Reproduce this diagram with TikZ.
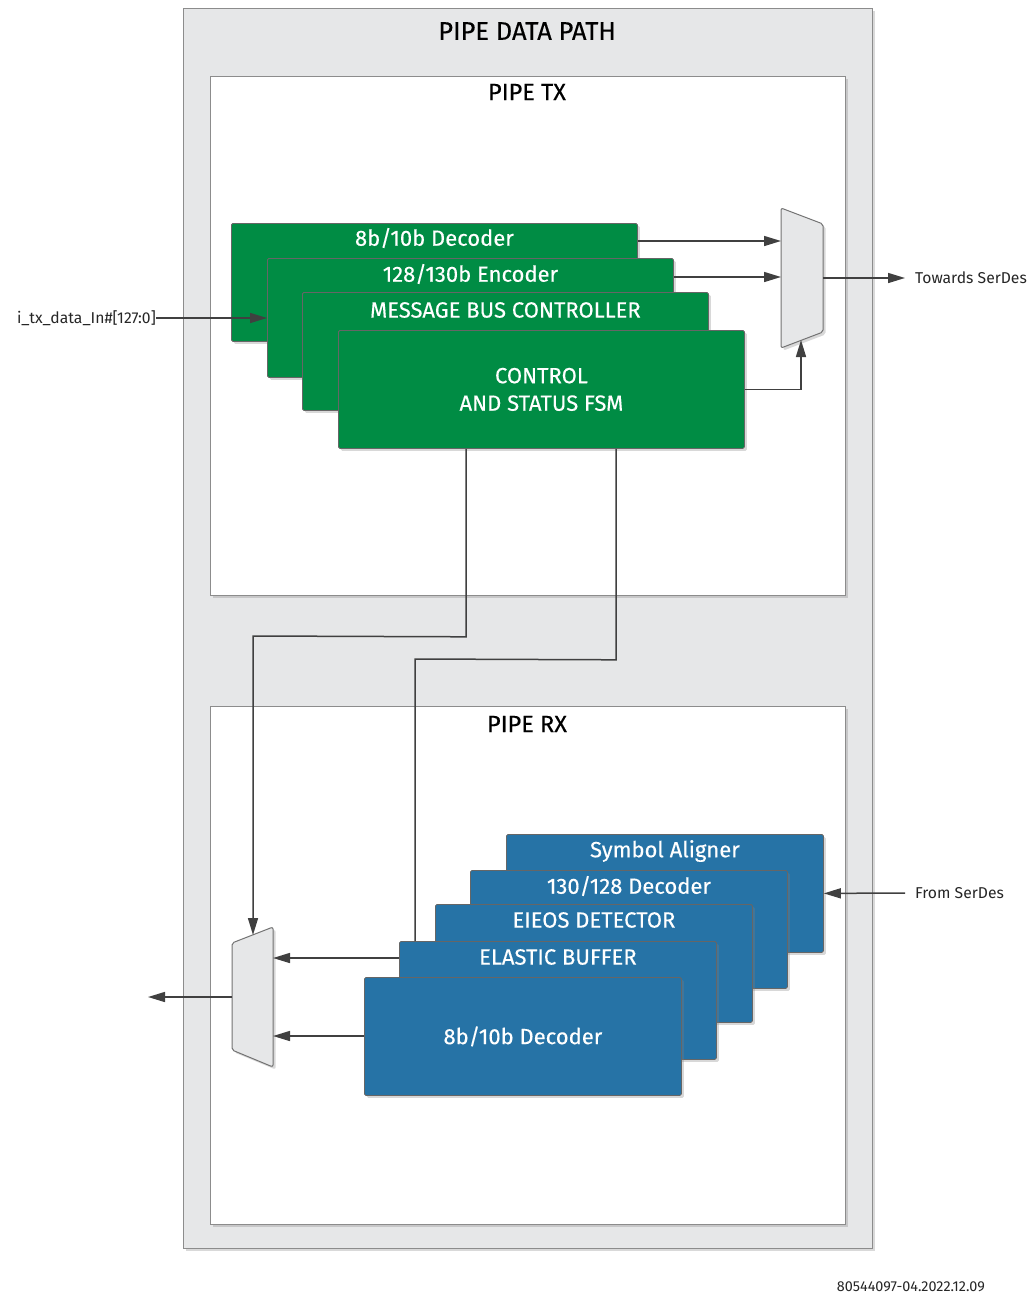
\documentclass[tikz,border=0pt]{standalone}
\usepackage{fontspec}
\setmainfont{Fira Sans}
\newfontfamily\medfont{Fira Sans}[FakeBold=0.3]
\usetikzlibrary{arrows.meta,shadows,calc}
\definecolor{grn}{HTML}{008C44}
\definecolor{blu}{HTML}{2673A6}
\definecolor{panel}{HTML}{E6E7E8}
\definecolor{edge}{HTML}{8C8C8C}
\definecolor{wire}{HTML}{404040}
\begin{document}
\begin{tikzpicture}[x=1pt,y=-1pt,
  shad/.style={drop shadow={opacity=0.3,shadow xshift=2.5pt,shadow yshift=-2.5pt}},
  panelbox/.style={draw=edge,line width=1pt,fill=panel,shad,anchor=north west,inner sep=0pt},
  whitebox/.style={draw=edge,line width=1pt,fill=white,shad,anchor=north west,inner sep=0pt,minimum width=635pt},
  gbox/.style={draw=wire!80,line width=0.8pt,fill=grn,shad,rounded corners=1.5pt,anchor=north west,inner sep=0pt,minimum width=406pt,minimum height=118pt},
  bbox/.style={draw=wire!80,line width=0.8pt,fill=blu,shad,rounded corners=1.5pt,anchor=north west,inner sep=0pt,minimum width=317pt,minimum height=118pt},
  btext/.style={text=white,font=\medfont\fontsize{22}{26}\selectfont,inner sep=0pt},
  ptext/.style={text=black,font=\medfont\fontsize{23.5}{27}\selectfont,inner sep=0pt},
  small/.style={text=black!85,font=\fontsize{15.7}{18}\selectfont,inner sep=0pt},
  muxst/.style={draw=black!55,line width=1pt,fill=panel,rounded corners=2pt,shad},
  wireline/.style={draw=wire,line width=1.5pt},
  arr/.style={wireline,-{Triangle[length=17pt,width=10pt]}}
]
\useasboundingbox (0,0) rectangle (1029,1293);
% outer panel
\node[panelbox,minimum width=689pt,minimum height=1240pt] (outer) at (183,8) {};
\node[ptext,font=\medfont\fontsize{25.5}{29}\selectfont] (title) at (527,31) {PIPE DATA PATH};
% TX and RX panels
\node[whitebox,minimum height=519pt] (tx) at (210,76) {};
\node[ptext] (txl) at (527,92) {PIPE TX};
\node[whitebox,minimum height=518pt] (rx) at (210,706) {};
\node[ptext] (rxl) at (527,724) {PIPE RX};
% green boxes
\node[gbox] (g1) at (231,223) {};
\node[btext] (g1t) at ($(g1.north)+(0,15)$) {8b/10b Decoder};
\node[gbox,minimum height=119pt] (g2) at (267,258) {};
\node[btext] (g2t) at ($(g2.north)+(0,16)$) {128/130b Encoder};
\node[gbox] (g3) at (302,292) {};
\node[btext] (g3t) at ($(g3.north)+(0,18)$) {MESSAGE BUS CONTROLLER};
\node[gbox] (g4) at (338,330) {};
\node[btext,align=center,font=\medfont\fontsize{22}{27.5}\selectfont] (g4t) at (g4.center) {CONTROL\\AND STATUS FSM};
% TX mux
\draw[muxst] (781,208) -- (823,224) -- (823,332) -- (781,348) -- cycle;
\coordinate (txin1) at (781,241);
\coordinate (txin2) at (781,277);
\coordinate (txin3) at (801,340);
\coordinate (txout) at (823,278);
% blue boxes
\node[bbox] (b1) at (506,834) {};
\node[btext] (b1t) at ($(b1.north)+(0,17)$) {Symbol Aligner};
\node[bbox] (b2) at (470,870) {};
\node[btext] (b2t) at ($(b2.north)+(0,16)$) {130/128 Decoder};
\node[bbox] (b3) at (435,904) {};
\node[btext] (b3t) at ($(b3.north)+(0,16)$) {EIEOS DETECTOR};
\node[bbox] (b4) at (399,941) {};
\node[btext] (b4t) at ($(b4.north)+(0,16)$) {ELASTIC BUFFER};
\node[bbox] (b5) at (364,977) {};
\node[btext] (b5t) at (b5.center) {8b/10b Decoder};
% RX mux
\draw[muxst] (232,943) -- (273,927) -- (273,1067) -- (232,1050) -- cycle;
\coordinate (rxtop) at (253,935);
\coordinate (rxin1) at (273,958);
\coordinate (rxin2) at (273,1036);
\coordinate (rxout) at (232,997);
\coordinate (rxend) at (148,997);
% labels
\node[small,anchor=east] (tin) at (156,318) {i\_tx\_data\_In\#[127:0]};
\node[small,anchor=west] (tow) at (915,278) {Towards SerDes};
\coordinate (towend) at (905,278);
\node[small,anchor=west] (from) at (915,893) {From SerDes};
\coordinate (fromstart) at (905,893);
\node[small,anchor=east,font=\fontsize{14.4}{17}\selectfont] (foot) at (985,1287) {80544097-04.2022.12.09};
% connectors TX
\draw[arr] (tin.east) -- (g2.west |- tin.east);
\draw[arr] (g1.east |- txin1) -- (txin1);
\draw[arr] (g2.east |- txin2) -- (txin2);
\draw[arr] (g4.east) -- (g4.east -| txin3) -- (txin3);
\draw[arr] (txout) -- (towend);
% TX to RX
\draw[arr] ($(g4.south west)+(128,0)$) -- ++(0,188) -- (253,636) -- (rxtop);
\draw[wireline] ($(g4.south west)+(278,0)$) -- ++(0,211) -- (415,659) -- (b4.north west -| 415,0);
% connectors RX
\draw[arr] (fromstart) -- (b1.east);
\draw[arr] (b4.west |- rxin1) -- (rxin1);
\draw[arr] (b5.west |- rxin2) -- (rxin2);
\draw[arr] (rxout) -- (rxend);
\end{tikzpicture}
\end{document}
